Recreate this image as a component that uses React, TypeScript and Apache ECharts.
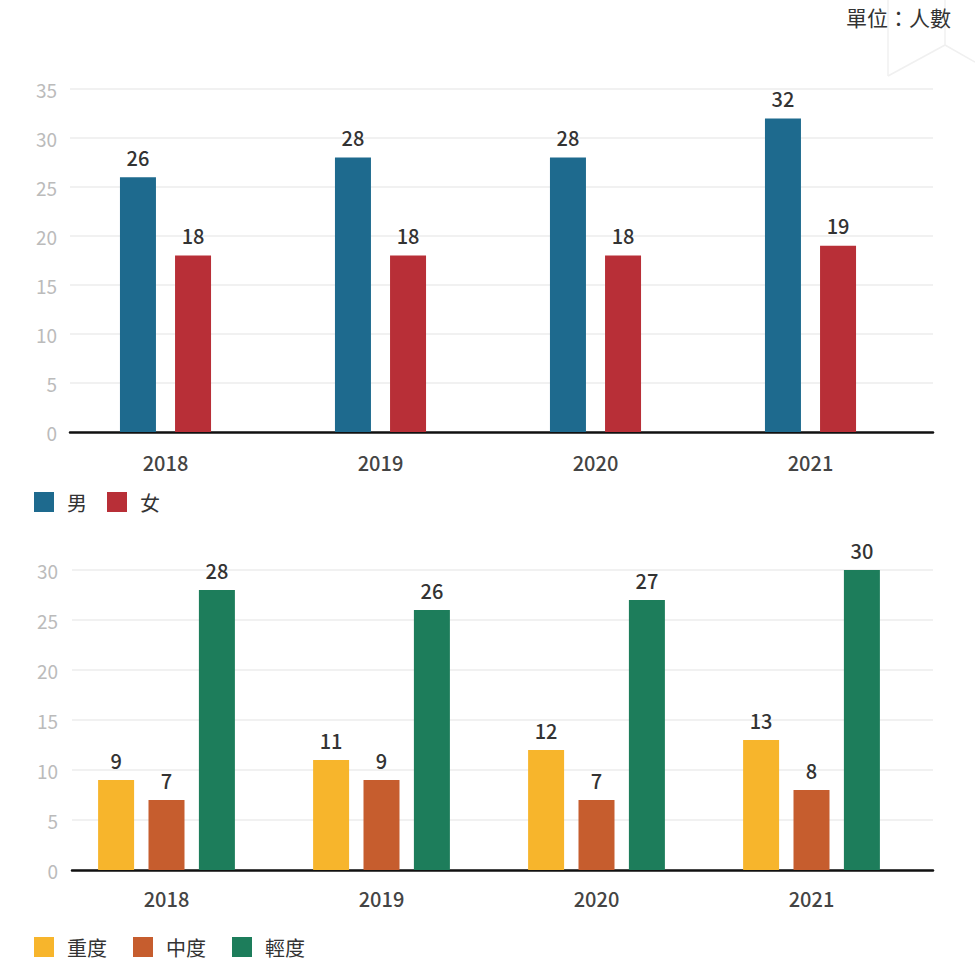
import React, { useEffect, useRef } from "react";
import * as echarts from "echarts";

const years = ["2018", "2019", "2020", "2021"];
const maleValues = [26, 28, 28, 32];
const femaleValues = [18, 18, 18, 19];
const severeValues = [9, 11, 12, 13];
const moderateValues = [7, 9, 7, 8];
const mildValues = [28, 26, 27, 30];
const genderNames = ["男", "女"];
const levelNames = ["重度", "中度", "輕度"];
const unitText = "單位：人數";

const FONT = "'Noto Sans CJK TC', 'Noto Sans', sans-serif";
const COLORS = {
  male: "#1e6a8e",
  female: "#b82f37",
  severe: "#f7b52c",
  moderate: "#c65d2e",
  mild: "#1d7d5b",
};

export default function App() {
  const ref = useRef<HTMLDivElement>(null);
  useEffect(() => {
    if (!ref.current) return;
    const chart = echarts.init(ref.current, null, { renderer: "svg" });
    const valueLabel = {
      show: true,
      position: "top",
      distance: 10,
      fontSize: 20,
      color: "#333",
      fontFamily: FONT,
      fontWeight: 500,
    };
    const bgY = (max: number, margin: number) => ({
      type: "value",
      min: 0,
      max,
      interval: 5,
      axisLine: { show: false },
      axisTick: { show: false },
      axisLabel: { color: "#bbb", fontSize: 19, margin, fontFamily: FONT },
      splitLine: { lineStyle: { color: "#ececec", width: 1.5 } },
    });
    const fgY = (max: number) => ({
      type: "value",
      min: 0,
      max,
      interval: 5,
      show: false,
      splitLine: { show: false },
    });
    const bgX = {
      type: "category",
      data: years,
      axisLine: { show: true, lineStyle: { color: "#111", width: 2.5 } },
      axisTick: { show: false },
      axisLabel: { show: false },
      splitLine: { show: false },
    };
    const fgX = (margin: number) => ({
      type: "category",
      data: years,
      axisLine: { show: false },
      axisTick: { show: false },
      axisLabel: { color: "#444", fontSize: 20, margin, fontFamily: FONT, fontWeight: 500 },
    });
    const legendText = { fontSize: 20, lineHeight: 20, color: "#333", fontFamily: FONT, padding: [0, 0, 0, 8] };
    chart.setOption({
      animation: false,
      textStyle: { fontFamily: FONT },
      grid: [
        { left: 70, width: 863, top: 89, height: 343 },
        { left: 58, width: 860, top: 89, height: 343 },
        { left: 72, width: 861, top: 570, height: 300 },
        { left: 59, width: 860, top: 570, height: 300 },
      ],
      xAxis: [
        { ...bgX, gridIndex: 0 },
        { ...fgX(20), gridIndex: 1 },
        { ...bgX, gridIndex: 2 },
        { ...fgX(18), gridIndex: 3 },
      ],
      yAxis: [
        { ...bgY(35, 13), gridIndex: 0 },
        { ...fgY(35), gridIndex: 1 },
        { ...bgY(30, 14), gridIndex: 2 },
        { ...fgY(30), gridIndex: 3 },
      ],
      legend: [
        {
          data: genderNames,
          left: 29,
          top: 487,
          icon: "rect",
          itemWidth: 20,
          itemHeight: 20,
          itemGap: 20,
          textStyle: legendText,
        },
        {
          data: levelNames,
          left: 29,
          top: 932,
          padding: [5, 5, 0, 5],
          icon: "rect",
          itemWidth: 20,
          itemHeight: 20,
          itemGap: 26,
          textStyle: legendText,
        },
      ],
      graphic: [
        {
          type: "text",
          right: 24,
          top: 6,
          style: { text: unitText, fontSize: 21, fill: "#333", fontFamily: FONT },
          z: 10,
        },
        { type: "line", shape: { x1: 888, y1: 0, x2: 888, y2: 76 }, style: { stroke: "#f0f0f0", lineWidth: 1.5 }, z: -1 },
        { type: "line", shape: { x1: 888, y1: 76, x2: 945, y2: 45 }, style: { stroke: "#f0f0f0", lineWidth: 1.5 }, z: -1 },
        { type: "line", shape: { x1: 945, y1: 0, x2: 945, y2: 45 }, style: { stroke: "#f0f0f0", lineWidth: 1.5 }, z: -1 },
        { type: "line", shape: { x1: 945, y1: 45, x2: 975, y2: 62 }, style: { stroke: "#f0f0f0", lineWidth: 1.5 }, z: -1 },
      ],
      series: [
        {
          name: genderNames[0],
          type: "bar",
          xAxisIndex: 1,
          yAxisIndex: 1,
          data: maleValues,
          barWidth: 36,
          barGap: "53%",
          itemStyle: { color: COLORS.male },
          label: valueLabel,
        },
        {
          name: genderNames[1],
          type: "bar",
          xAxisIndex: 1,
          yAxisIndex: 1,
          data: femaleValues,
          barWidth: 36,
          barGap: "53%",
          itemStyle: { color: COLORS.female },
          label: valueLabel,
        },
        {
          name: levelNames[0],
          type: "bar",
          xAxisIndex: 3,
          yAxisIndex: 3,
          data: severeValues,
          barWidth: 36,
          barGap: "40%",
          itemStyle: { color: COLORS.severe },
          label: valueLabel,
        },
        {
          name: levelNames[1],
          type: "bar",
          xAxisIndex: 3,
          yAxisIndex: 3,
          data: moderateValues,
          barWidth: 36,
          barGap: "40%",
          itemStyle: { color: COLORS.moderate },
          label: valueLabel,
        },
        {
          name: levelNames[2],
          type: "bar",
          xAxisIndex: 3,
          yAxisIndex: 3,
          data: mildValues,
          barWidth: 36,
          barGap: "40%",
          itemStyle: { color: COLORS.mild },
          label: valueLabel,
        },
      ],
    });
    return () => chart.dispose();
  }, []);
  return (
    <div
      ref={ref}
      style={{ position: "absolute", left: 0, top: 0, width: 975, height: 960, background: "#fff" }}
    />
  );
}
